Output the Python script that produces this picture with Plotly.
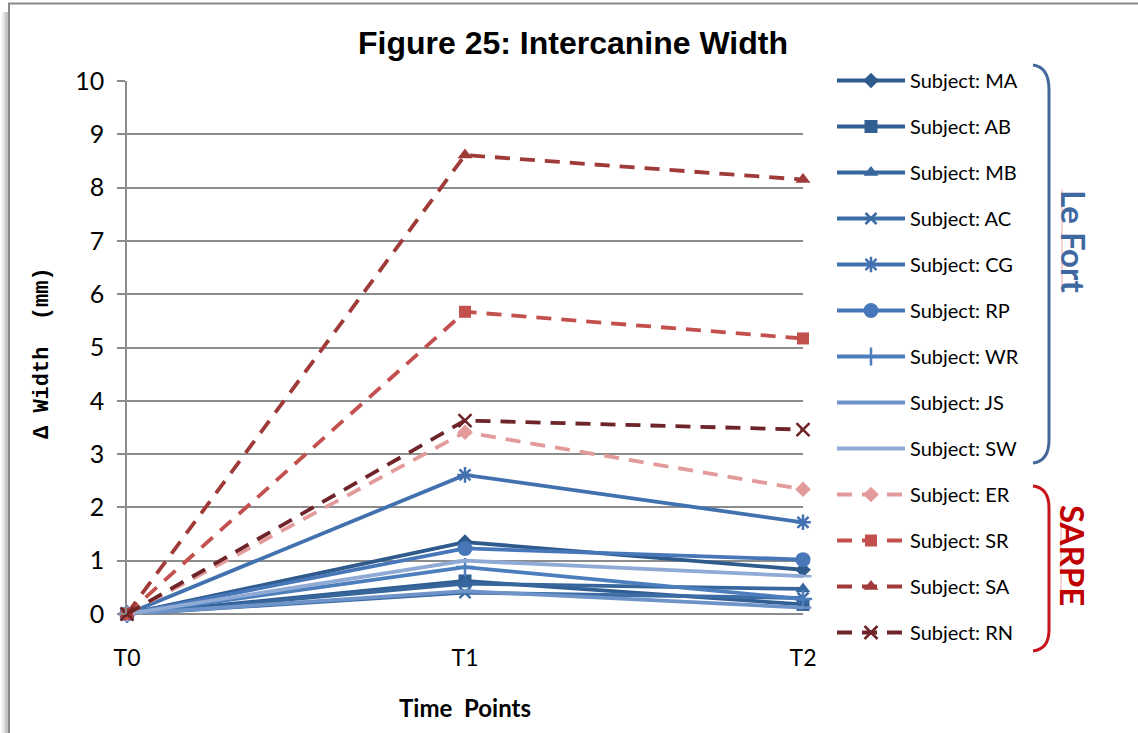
import plotly.graph_objects as go

# ---------------- data ----------------
time_points = ["T0", "T1", "T2"]
subjects = ["MA", "AB", "MB", "AC", "CG", "RP", "WR", "JS", "SW", "ER", "SR", "SA", "RN"]
ma = [0, 1.35, 0.83]
ab = [0, 0.62, 0.18]
mb = [0, 0.57, 0.47]
ac = [0, 0.40, 0.30]
cg = [0, 2.61, 1.72]
rp = [0, 1.23, 1.02]
wr = [0, 0.88, 0.28]
js = [0, 0.43, 0.12]
sw = [0, 1.00, 0.71]
er = [0, 3.41, 2.34]
sr = [0, 5.67, 5.17]
sa = [0, 8.61, 8.15]
rn = [0, 3.63, 3.46]
values = [ma, ab, mb, ac, cg, rp, wr, js, sw, er, sr, sa, rn]
y_ticks = [0, 1, 2, 3, 4, 5, 6, 7, 8, 9, 10]

# ---------------- styles ----------------
colors = ["#2E5A8C", "#325F93", "#37669C", "#3C6CA6", "#4271B0", "#4777B8",
          "#4C7EBD", "#6D93C8", "#8FAAD4",
          "#E29B9A", "#C4504D", "#A03A38", "#6E2428"]
symbols = ["diamond", "square", "triangle-up", "x-thin", "asterisk", "circle",
           "cross-thin", "line-ew", "line-ew",
           "diamond", "square", "triangle-up", "x-thin"]
msizes = [12, 13, 13, 11, 13, 15, 13, 12, 12, 12, 12, 13, 13]
dashed = [False] * 9 + [True] * 4

W, H = 1138, 733
L, R, T, B = 127, 803, 81, 614


def px(x):
    return (x - L) / (R - L)


def py(y):
    return (B - y) / (B - T)


FONT = "Lato"

fig = go.Figure()
for i, (name, vals) in enumerate(zip(subjects, values)):
    open_sym = symbols[i] in ("x-thin", "asterisk", "cross-thin", "line-ew")
    fig.add_trace(go.Scatter(
        x=time_points, y=vals, mode="lines+markers",
        name="Subject: " + name,
        legendgroup=name,
        line=dict(color=colors[i], width=3.8,
                  dash="15px,10px" if dashed[i] else "solid"),
        marker=dict(symbol=symbols[i], size=msizes[i], color=colors[i],
                    line=dict(color=colors[i], width=2.5 if open_sym else 0)),
        cliponaxis=False,
    ))

shapes = []
# chart frame and left shadow
shapes.append(dict(type="rect", xref="paper", yref="paper",
                   x0=px(9), x1=px(1160), y0=py(760), y1=py(3.5),
                   line=dict(color="#8A8A8A", width=2), layer="below"))
for xx, c in [(7, "#B0B0B0"), (5.5, "#C8C8C8"), (4, "#DCDCDC"), (2.5, "#EDEDED")]:
    shapes.append(dict(type="line", xref="paper", yref="paper",
                       x0=px(xx), x1=px(xx), y0=py(12), y1=py(760),
                       line=dict(color=c, width=1.5), layer="below"))
# brackets
shapes.append(dict(type="path", xref="paper", yref="paper",
                   path=f"M {px(1033)},{py(65)} Q {px(1049)},{py(67)} {px(1049)},{py(90)} "
                        f"L {px(1049)},{py(440)} Q {px(1049)},{py(461)} {px(1033)},{py(463)}",
                   line=dict(color="#44689A", width=3)))
shapes.append(dict(type="path", xref="paper", yref="paper",
                   path=f"M {px(1033)},{py(486)} Q {px(1049)},{py(488)} {px(1049)},{py(508)} "
                        f"L {px(1049)},{py(630)} Q {px(1049)},{py(649)} {px(1033)},{py(651)}",
                   line=dict(color="#C8141C", width=3)))
# pink underlines of the rotated labels
shapes.append(dict(type="line", xref="paper", yref="paper",
                   x0=px(1062), x1=px(1062), y0=py(189), y1=py(293),
                   line=dict(color="#F2A5A5", width=1)))
shapes.append(dict(type="line", xref="paper", yref="paper",
                   x0=px(1061), x1=px(1061), y0=py(506), y1=py(603),
                   line=dict(color="#F2A5A5", width=1)))

annotations = [
    dict(text="<b>Figure 25: Intercanine Width</b>", xref="paper", yref="paper",
         x=px(573), y=py(43), xanchor="center", yanchor="middle", showarrow=False,
         font=dict(family="Liberation Sans, Arial", size=32, color="black")),
    dict(text="<b>Δ Width\u00a0\u00a0(mm)</b>", xref="paper", yref="paper",
         x=px(42), y=py(353), xanchor="center", yanchor="middle",
         textangle=-90, showarrow=False,
         font=dict(family="Liberation Mono, Courier New", size=22, color="black")),
    dict(text="<b>Time\u00a0\u00a0Points</b>", xref="paper", yref="paper",
         x=px(465), y=py(707), xanchor="center", yanchor="middle", showarrow=False,
         font=dict(family=FONT, size=24, color="black")),
    dict(text="<b>Le Fort</b>", xref="paper", yref="paper",
         x=px(1074), y=py(241), xanchor="center", yanchor="middle",
         textangle=90, showarrow=False,
         font=dict(family=FONT, size=33, color="#3F68A0")),
    dict(text="<b>SARPE</b>", xref="paper", yref="paper",
         x=px(1073), y=py(555), xanchor="center", yanchor="middle",
         textangle=90, showarrow=False,
         font=dict(family=FONT, size=33, color="#C00000")),
]

fig.update_layout(
    width=W, height=H,
    margin=dict(l=L, r=W - R, t=T, b=H - B, pad=0),
    paper_bgcolor="white", plot_bgcolor="white",
    font=dict(family=FONT, color="black"),
    showlegend=True,
    legend=dict(x=px(832), y=py(61), xanchor="left", yanchor="top",
                font=dict(family=FONT, size=20, color="black"),
                traceorder="grouped", tracegroupgap=17, itemwidth=68,
                maxheight=720,
                bgcolor="rgba(0,0,0,0)"),
    xaxis=dict(type="category", range=[0, 2], showgrid=False, zeroline=False,
               showline=False, ticks="", ticklabelstandoff=28,
               tickfont=dict(family=FONT, size=23, color="black")),
    yaxis=dict(range=[0, 10], tickvals=y_ticks, showgrid=True,
               gridcolor="#8C8C8C", gridwidth=1.5, zeroline=True,
               zerolinecolor="#8C8C8C", zerolinewidth=1.5,
               showline=True, linecolor="#8C8C8C", linewidth=1.5,
               ticks="outside", ticklen=8, tickcolor="#8C8C8C", tickwidth=1.5,
               ticklabelstandoff=8,
               tickfont=dict(family=FONT, size=25, color="black")),
    shapes=shapes, annotations=annotations,
)

fig.write_html("out.html")
